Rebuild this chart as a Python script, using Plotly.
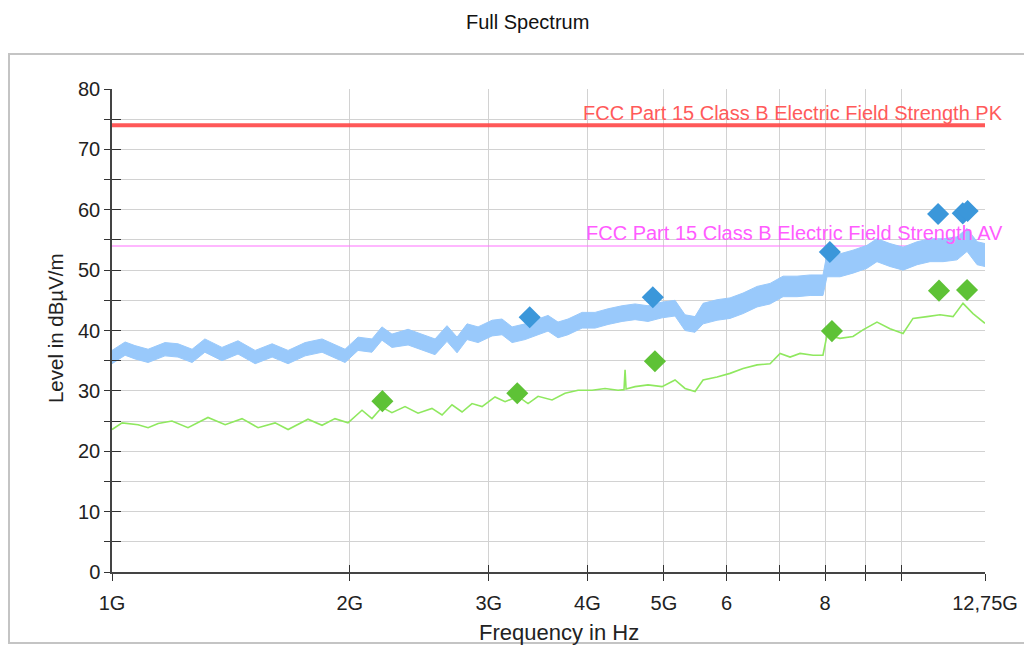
import math
import plotly.graph_objects as go

# ---------------- data ----------------
# Peak trace (light blue band): frequency in GHz, lower / upper envelope in dBuV/m
pk_freq = [1.000, 1.039, 1.069, 1.111, 1.167, 1.212, 1.263, 1.311, 1.378, 1.444,
           1.518, 1.595, 1.671, 1.756, 1.845, 1.933, 1.973, 2.049, 2.134, 2.197,
           2.262, 2.371, 2.469, 2.565, 2.656, 2.735, 2.816, 2.908, 3.029, 3.118,
           3.211, 3.335, 3.464, 3.566, 3.671, 3.780, 3.938, 4.090, 4.248, 4.425,
           4.596, 4.773, 4.972, 5.164, 5.317, 5.474, 5.604, 5.837, 6.062, 6.297,
           6.560, 6.813, 7.076, 7.371, 7.656, 7.949, 8.043, 8.353, 8.676, 9.037,
           9.305, 9.665, 10.04, 10.46, 10.86, 11.28, 11.75, 12.10, 12.46, 12.75]
pk_hi = [36.7, 38.1, 37.5, 36.9, 38.0, 37.8, 36.9, 38.6, 37.2, 38.3,
         36.7, 37.8, 36.7, 38.0, 38.6, 37.5, 36.9, 38.9, 38.6, 40.6,
         39.4, 40.2, 39.4, 38.6, 40.8, 38.9, 41.1, 40.6, 41.7, 41.9,
         40.6, 41.1, 41.9, 42.5, 41.4, 41.9, 43.0, 43.0, 43.6, 44.1,
         44.4, 44.1, 44.7, 45.0, 42.6, 42.3, 44.5, 45.1, 45.4, 46.2,
         47.3, 47.8, 49.0, 49.0, 49.2, 49.2, 52.7, 52.7, 53.3, 54.1,
         55.2, 54.4, 53.8, 54.7, 55.2, 55.2, 55.5, 56.9, 54.7, 54.4]
pk_lo = [34.5, 35.9, 35.3, 34.7, 35.8, 35.6, 34.7, 36.4, 35.0, 36.1,
         34.5, 35.6, 34.5, 35.8, 36.4, 35.3, 34.7, 36.7, 36.4, 38.4,
         37.2, 37.6, 36.8, 36.0, 38.2, 36.3, 38.5, 38.0, 39.1, 39.3,
         38.0, 38.5, 39.3, 39.9, 38.8, 39.3, 40.4, 40.4, 41.0, 41.5,
         41.8, 41.5, 42.1, 42.4, 40.0, 39.7, 41.1, 41.7, 42.0, 42.8,
         43.9, 44.4, 45.6, 45.6, 45.8, 45.8, 48.9, 48.9, 49.5, 50.3,
         51.4, 50.6, 50.0, 50.9, 51.4, 51.4, 51.7, 53.1, 50.9, 50.6]

# Average trace (light green line)
av_freq = [1.000, 1.030, 1.079, 1.111, 1.144, 1.191, 1.248, 1.323, 1.391, 1.461,
           1.531, 1.609, 1.671, 1.771, 1.845, 1.916, 1.990, 2.073, 2.134, 2.197,
           2.262, 2.350, 2.441, 2.542, 2.618, 2.695, 2.775, 2.857, 2.942, 3.055,
           3.146, 3.267, 3.364, 3.464, 3.608, 3.747, 3.892, 4.054, 4.211, 4.374,
           4.450, 4.464, 4.477, 4.596, 4.773, 4.972, 5.164, 5.317, 5.474, 5.604,
           5.837, 6.062, 6.297, 6.560, 6.813, 7.015, 7.222, 7.436, 7.723, 7.949,
           8.043, 8.353, 8.676, 8.932, 9.305, 9.665, 10.04, 10.335, 10.766, 11.182,
           11.615, 11.958, 12.312, 12.75]
av_val = [23.6, 24.7, 24.4, 23.9, 24.6, 25.0, 23.9, 25.6, 24.4, 25.4,
          23.9, 24.7, 23.6, 25.3, 24.3, 25.4, 24.7, 26.8, 25.4, 27.3,
          26.4, 27.4, 26.3, 27.1, 26.0, 27.7, 26.5, 27.9, 27.4, 29.0,
          28.2, 29.1, 27.9, 29.1, 28.5, 29.6, 30.1, 30.1, 30.4, 30.1,
          30.2, 33.5, 30.3, 30.7, 31.0, 30.7, 31.8, 30.4, 29.9, 31.8,
          32.3, 32.9, 33.7, 34.3, 34.5, 36.2, 35.6, 36.2, 35.9, 35.9,
          39.2, 38.7, 39.0, 40.1, 41.4, 40.3, 39.5, 42.0, 42.3, 42.6,
          42.3, 44.5, 42.8, 41.2]

# Final measurement markers
pk_mark_freq = [3.38, 4.84, 8.11, 11.12, 11.95, 12.12]
pk_mark_val = [42.2, 45.5, 53.0, 59.3, 59.4, 59.8]
av_mark_freq = [2.20, 3.26, 4.87, 8.16, 11.15, 12.10]
av_mark_val = [28.3, 29.6, 34.9, 39.9, 46.6, 46.7]

# Limit lines
limit_freq = [1.0, 12.75]
limit_pk = [74, 74]
limit_av = [54, 54]
limit_pk_name = "FCC Part 15 Class B Electric Field Strength PK"
limit_av_name = "FCC Part 15 Class B Electric Field Strength AV"

# Axis ticks
x_tickvals = [1, 2, 3, 4, 5, 6, 7, 8, 9, 10, 12.75]
x_ticktext = ["1G", "2G", "3G", "4G", "5G", "6", "", "8", "", "", "12,75G"]
y_tickvals = list(range(0, 81, 5))
y_ticktext = [str(v) if v % 10 == 0 else "" for v in y_tickvals]

FONT = "Liberation Sans, Arial, sans-serif"
FS = 20

# ---------------- figure ----------------
fig = go.Figure()

fig.add_trace(go.Scatter(x=limit_freq, y=limit_pk, mode="lines",
                         line=dict(color="rgba(255,70,70,0.9)", width=4),
                         hoverinfo="skip", showlegend=False))
fig.add_trace(go.Scatter(x=limit_freq, y=limit_av, mode="lines",
                         line=dict(color="#ff70ff", width=1.2),
                         hoverinfo="skip", showlegend=False))

fig.add_trace(go.Scatter(x=pk_freq, y=pk_lo, mode="lines",
                         line=dict(color="#99c9fb", width=1),
                         hoverinfo="skip", showlegend=False))
fig.add_trace(go.Scatter(x=pk_freq, y=pk_hi, mode="lines",
                         line=dict(color="#99c9fb", width=1),
                         fill="tonexty", fillcolor="#99c9fb",
                         hoverinfo="skip", showlegend=False))

fig.add_trace(go.Scatter(x=av_freq, y=av_val, mode="lines",
                         line=dict(color="#8fe85f", width=1.6),
                         hoverinfo="skip", showlegend=False))

fig.add_trace(go.Scatter(x=pk_mark_freq, y=pk_mark_val, mode="markers",
                         marker=dict(symbol="diamond", size=17, color="#3b97da",
                                     line=dict(width=0)),
                         showlegend=False))
fig.add_trace(go.Scatter(x=av_mark_freq, y=av_mark_val, mode="markers",
                         marker=dict(symbol="diamond", size=17, color="#5ec236",
                                     line=dict(width=0)),
                         showlegend=False))

# dummy trace on overlay axes (for the inner half of the cross ticks)
fig.add_trace(go.Scatter(x=[1], y=[0], xaxis="x2", yaxis="y2", mode="markers",
                         marker=dict(opacity=0), hoverinfo="skip", showlegend=False))

xr = [0, math.log10(12.75)]
fig.update_layout(
    width=1024, height=639,
    margin=dict(l=104, r=47, t=81, b=75),
    paper_bgcolor="white", plot_bgcolor="white",
    font=dict(family=FONT, size=FS, color="#222"),
    showlegend=False,
    xaxis=dict(type="log", range=xr, tickvals=x_tickvals, ticktext=x_ticktext,
               ticks="outside", ticklen=7, tickwidth=1.2, tickcolor="#333",
               showline=True, linecolor="#444", linewidth=1.5,
               showgrid=True, gridcolor="#d2d2d2", gridwidth=1, zeroline=False,
               tickfont=dict(size=FS, family=FONT, color="#222"),
               ticklabelstandoff=5),
    yaxis=dict(range=[0, 80], tickvals=y_tickvals, ticktext=y_ticktext,
               ticks="outside", ticklen=6, tickwidth=1.2, tickcolor="#333",
               showline=True, linecolor="#444", linewidth=1.5,
               showgrid=True, gridcolor="#d2d2d2", gridwidth=1, zeroline=False,
               tickfont=dict(size=FS, family=FONT, color="#222")),
    xaxis2=dict(type="log", range=xr, overlaying="x", anchor="y", side="bottom",
                tickvals=x_tickvals, ticks="inside", ticklen=7, tickwidth=1.2,
                tickcolor="#333", showticklabels=False, showgrid=False,
                showline=False, zeroline=False),
    yaxis2=dict(range=[0, 80], overlaying="y", anchor="x", side="left",
                tickvals=y_tickvals, ticks="inside", ticklen=9, tickwidth=1.2,
                tickcolor="#333", showticklabels=False, showgrid=False,
                showline=False, zeroline=False),
)

# outer frame
fig.add_shape(type="rect", xref="paper", yref="paper",
              x0=-0.1180, x1=1.07, y0=-0.147, y1=1.0725,
              line=dict(color="#c4c4c4", width=2), layer="below")

# titles
fig.add_annotation(text="Full Spectrum", xref="paper", yref="paper",
                   x=0.4754, y=1.166, xanchor="center", yanchor="top",
                   showarrow=False, font=dict(size=FS, family=FONT, color="#111"))
fig.add_annotation(text="Frequency in Hz", xref="paper", yref="paper",
                   x=0.512, y=-0.1245, xanchor="center", yanchor="middle",
                   showarrow=False, font=dict(size=22, family=FONT, color="#222"))
fig.add_annotation(text="Level in dBµV/m", xref="paper", yref="paper",
                   x=-0.0653, y=0.505, xanchor="center", yanchor="middle",
                   textangle=-90, showarrow=False,
                   font=dict(size=20.5, family=FONT, color="#222"))

# limit labels
fig.add_annotation(text=limit_pk_name, xref="paper", yref="y",
                   x=1.023, y=limit_pk[0], xanchor="right", yanchor="bottom",
                   showarrow=False, yshift=-1,
                   font=dict(size=FS, family=FONT, color="#ff5a5a"))
fig.add_annotation(text=limit_av_name, xref="paper", yref="y",
                   x=1.023, y=limit_av[0], xanchor="right", yanchor="bottom",
                   showarrow=False, yshift=0,
                   font=dict(size=FS, family=FONT, color="#ff5cff"))

fig.write_html("out.html")
